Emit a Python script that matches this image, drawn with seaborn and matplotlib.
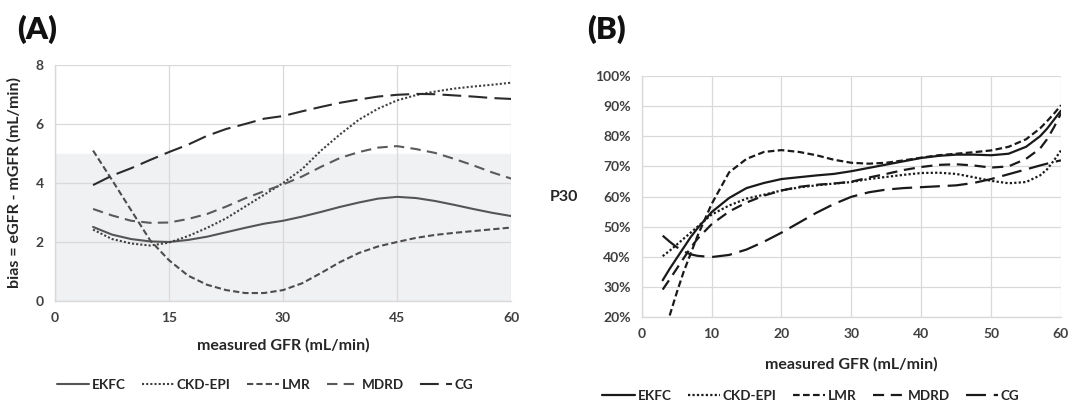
import numpy as np
import pandas as pd
import matplotlib.pyplot as plt
import seaborn as sns
from matplotlib.ticker import FuncFormatter

# ---- data ----
equations = ["EKFC", "CKD-EPI", "LMR", "MDRD", "CG"]

# (A) bias vs measured GFR
gfr_a = [5, 7.5, 10, 12.5, 15, 17.5, 20, 22.5, 25, 27.5, 30, 32.5, 35, 37.5,
         40, 42.5, 45, 47.5, 50, 52.5, 55, 57.5, 60]
bias_ekfc = [2.51, 2.25, 2.1, 2.02, 2.0, 2.07, 2.18, 2.33, 2.48, 2.62, 2.72, 2.86, 3.02,
             3.19, 3.34, 3.47, 3.53, 3.49, 3.39, 3.26, 3.12, 2.99, 2.88]
bias_ckdepi = [2.42, 2.1, 1.95, 1.88, 1.98, 2.2, 2.48, 2.8, 3.2, 3.6, 4.0, 4.47, 5.1,
               5.65, 6.15, 6.52, 6.8, 6.98, 7.1, 7.2, 7.27, 7.33, 7.4]
bias_lmr = [5.1, 4.1, 3.08, 2.06, 1.38, 0.86, 0.55, 0.37, 0.27, 0.27, 0.37, 0.6, 0.95,
            1.32, 1.63, 1.85, 2.0, 2.14, 2.24, 2.31, 2.37, 2.43, 2.49]
bias_mdrd = [3.12, 2.9, 2.72, 2.65, 2.66, 2.78, 2.95, 3.2, 3.48, 3.72, 3.95, 4.22, 4.55,
             4.85, 5.05, 5.2, 5.25, 5.15, 5.02, 4.82, 4.6, 4.36, 4.15]
bias_cg = [3.93, 4.25, 4.5, 4.78, 5.05, 5.3, 5.6, 5.83, 6.0, 6.18, 6.27, 6.43, 6.58,
           6.72, 6.83, 6.93, 6.99, 7.02, 7.01, 6.97, 6.93, 6.88, 6.85]

# (B) P30 (%) vs measured GFR
gfr_b = [3, 4, 5, 6, 7, 8, 10, 12.5, 15, 17.5, 20, 22.5, 25, 27.5, 30, 32.5, 35, 37.5,
         40, 42.5, 45, 47.5, 50, 52.5, 55, 57, 58, 59, 60]
p30_ekfc = [32.2, 36, 39.5, 43, 46.5, 49.5, 54.8, 59.5, 62.8, 64.5, 65.8, 66.4, 67, 67.5,
            68.4, 69.5, 70.6, 71.7, 72.8, 73.5, 73.9, 73.9, 73.7, 74.2, 76.5, 80, 82.5, 85.5, 88.5]
p30_ckdepi = [40.2, 42, 44, 46, 48, 50, 54, 57, 59.3, 60.6, 62, 63, 63.7, 64.3,
              64.8, 65.8, 66.5, 67.2, 67.8, 67.9, 67.5, 66.4, 65.2, 64.4, 64.8, 67, 69, 72, 75.3]
p30_lmr = [np.nan, 20.5, 28, 35, 41, 47, 57.5, 68, 72.5, 74.8, 75.4, 74.8, 73.7, 72.2,
           71.2, 70.9, 71.2, 72, 72.9, 73.7, 74.2, 74.7, 75.3, 76.5, 79, 82.6, 85, 87.5, 90.3]
p30_mdrd = [29.1, 32.5, 36, 39.5, 43, 46, 50.8, 55, 58, 60.3, 62, 63.2, 63.9, 64.3,
            64.9, 66.3, 67.5, 68.8, 69.8, 70.5, 70.7, 70.3, 69.6, 70, 72.5, 75.9, 79, 83, 87.6]
p30_cg = [47, 45, 43.2, 41.8, 40.8, 40.3, 39.9, 40.6, 42.4, 45, 48, 51.3, 54.6, 57.5,
          59.9, 61.4, 62.3, 62.8, 63.1, 63.4, 63.7, 64.5, 65.8, 67.4, 69, 70.3, 70.9, 71.5, 72]


def long_frame(x, series, col):
    rows = []
    for name, vals in zip(equations, series):
        for xi, yi in zip(x, vals):
            if not np.isnan(yi):
                rows.append({"gfr": xi, col: yi, "eq": name})
    return pd.DataFrame(rows)


df_a = long_frame(gfr_a, [bias_ekfc, bias_ckdepi, bias_lmr, bias_mdrd, bias_cg], "bias")
df_b = long_frame(gfr_b, [p30_ekfc, p30_ckdepi, p30_lmr, p30_mdrd, p30_cg], "p30")

dashes = {"EKFC": "", "CKD-EPI": (1, 1), "LMR": (3, 1.5), "MDRD": (5, 3), "CG": (9, 3.5)}
pal_a = {"EKFC": "#555555", "CKD-EPI": "#404040", "LMR": "#4d4d4d", "MDRD": "#5a5a5a", "CG": "#2b2b2b"}
pal_b = {k: "#1a1a1a" for k in equations}

sns.set_theme(style="white")
plt.rcParams["font.family"] = ["Lato", "DejaVu Sans"]
plt.rcParams["font.weight"] = "bold"
plt.rcParams["axes.labelweight"] = "bold"

tick_col = "#404040"
grid_col = "#d9d9d9"
leg_kw = dict(ncol=5, frameon=False, title=None, fontsize=9.7, handlelength=2.4,
              columnspacing=1.2, handletextpad=0.2)

fig = plt.figure(figsize=(10.69, 4.05), dpi=100)
ax1 = fig.add_axes([0.0515, 0.2568, 0.4266, 0.5827])
ax2 = fig.add_axes([0.6003, 0.2173, 0.3922, 0.595])

# ---- panel A ----
ax1.axhspan(0, 5, color="#f0f1f3", zorder=0)
sns.lineplot(data=df_a, x="gfr", y="bias", hue="eq", style="eq", palette=pal_a,
             dashes=dashes, hue_order=equations, style_order=equations,
             estimator=None, linewidth=1.5, ax=ax1)
ax1.set_xlim(0, 60)
ax1.set_ylim(0, 8)
ax1.set_xticks([0, 15, 30, 45, 60])
ax1.set_yticks([0, 2, 4, 6, 8])
ax1.set_xlabel("measured GFR (mL/min)", fontsize=11.5, color="#262626", labelpad=10)
ax1.set_ylabel("bias = eGFR - mGFR (mL/min)", fontsize=11.5, color="#262626", labelpad=10)
sns.move_legend(ax1, "center", bbox_to_anchor=((265 - 55) / 456, (405 - 385 - 104) / 236), **leg_kw)

# ---- panel B ----
sns.lineplot(data=df_b, x="gfr", y="p30", hue="eq", style="eq", palette=pal_b,
             dashes=dashes, hue_order=equations, style_order=equations,
             estimator=None, linewidth=1.6, ax=ax2)
ax2.set_xlim(0, 60)
ax2.set_ylim(20, 100)
ax2.set_xticks(range(0, 61, 10))
ax2.set_yticks(range(20, 101, 10))
ax2.yaxis.set_major_formatter(FuncFormatter(lambda v, p: f"{v:.0f}%"))
ax2.set_xlabel("measured GFR (mL/min)", fontsize=11.5, color="#262626", labelpad=12)
ax2.set_ylabel("P30", fontsize=11.5, color="#262626", rotation=0, labelpad=22, va="center")
sns.move_legend(ax2, "center", bbox_to_anchor=((811 - 641.7) / 419.3, (405 - 396 - 88) / 241), **leg_kw)

for ax in (ax1, ax2):
    ax.grid(True, color=grid_col, linewidth=0.9)
    ax.set_axisbelow(True)
    for side in ("top", "right"):
        ax.spines[side].set_visible(False)
    for side in ("left", "bottom"):
        ax.spines[side].set_color(grid_col)
        ax.spines[side].set_linewidth(1.0)
    ax.tick_params(axis="both", length=0, labelsize=10, labelcolor=tick_col, pad=8)
    for lab in ax.get_xticklabels() + ax.get_yticklabels():
        lab.set_fontweight("bold")
    for t in ax.get_legend().get_texts():
        t.set_color("#262626")
        t.set_fontweight("bold")

fig.text(0.0156, 0.963, "(A)", fontsize=22.5, fontweight="heavy", va="top", color="#111111")
fig.text(0.549, 0.963, "(B)", fontsize=22.5, fontweight="heavy", va="top", color="#111111")

fig.savefig("out.png", dpi=100)
